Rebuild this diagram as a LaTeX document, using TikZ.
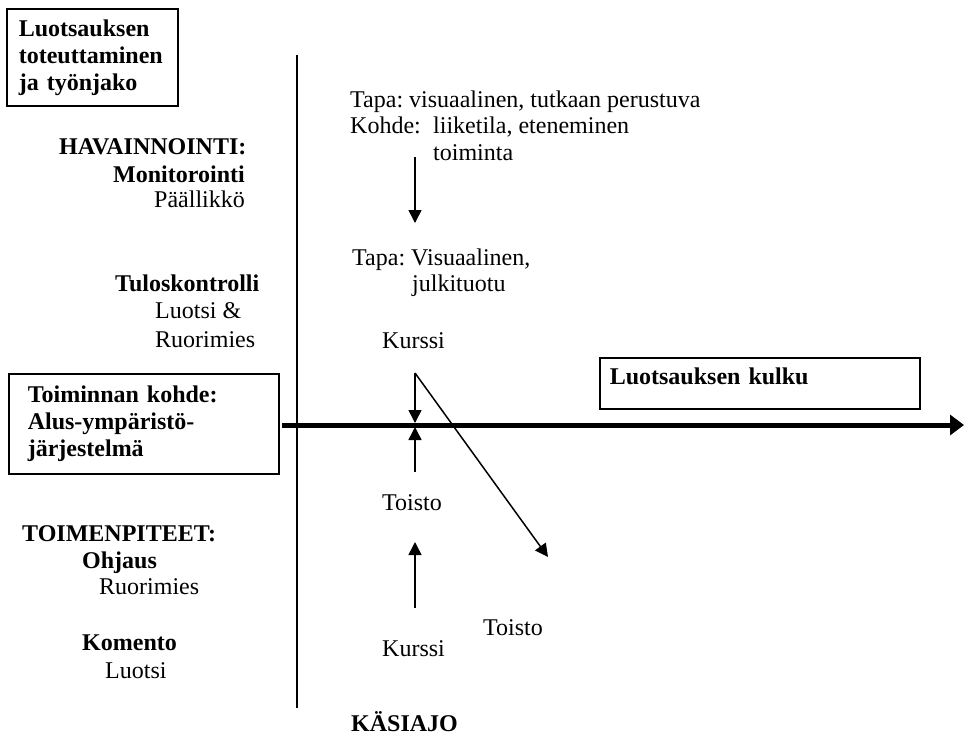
\documentclass[tikz,border=0pt]{standalone}
\usepackage{fontspec}
\setmainfont{Liberation Serif}
\usetikzlibrary{arrows.meta}
\frenchspacing

\begin{document}
\begin{tikzpicture}[x=1pt,y=-1pt,
  txt/.style={anchor=base west, inner sep=0pt, font=\fontsize{24}{27}\selectfont},
  btxt/.style={txt, font=\fontsize{24}{27}\selectfont\bfseries},
  frame/.style={draw, line width=1.6pt, align=left, inner ysep=0pt,
    font=\fontsize{24}{27}\selectfont\bfseries},
  thinarrow/.style={line width=1.5pt, -{Triangle[length=13pt,width=13pt]}},
  axis/.style={line width=2.4pt},
  flow/.style={line width=5pt, -{Triangle[length=14pt,width=20pt]}}
]
\useasboundingbox (0,0) rectangle (964,737);

% framed headings
\node[frame, anchor=north west, inner xsep=12pt, text width=147pt,
      minimum height=97pt] (tyonjako) at (6,8)
      {Luotsauksen\\toteuttaminen\\ja työnjako};
\node[frame, anchor=north west, inner xsep=19pt, text width=232pt,
      minimum height=100pt] (kohde) at (8,373)
      {Toiminnan kohde:\\Alus-ympäristö-\\järjestelmä};
\node[frame, anchor=north west, inner xsep=10pt, text width=300pt,
      text height=17pt, text depth=14pt, minimum height=51pt] (kulku) at (599,357)
      {Luotsauksen kulku};

% time axis and vertical divider
\coordinate (vtop) at (297,55);
\coordinate (vbot) at (297,708);
\draw[axis] (vtop) -- (vbot);
\coordinate (hstart) at (282,425);
\coordinate (hend) at (964,425);
\draw[flow] (hstart) -- (hend);

% left column: roles
\node[btxt] (hav) at (59,154) {HAVAINNOINTI:};
\node[btxt] (mon) at (113,182) {Monitorointi};
\node[txt]  (pal) at (154,207) {Päällikkö};
\node[btxt] (tul) at (115,291) {Tuloskontrolli};
\node[txt]  (luo1) at (155,318) {Luotsi \&};
\node[txt]  (ruo1) at (155,347) {Ruorimies};
\node[btxt] (toi) at (22,541) {TOIMENPITEET:};
\node[btxt] (ohj) at (82,568) {Ohjaus};
\node[txt]  (ruo2) at (99,594) {Ruorimies};
\node[btxt] (kom) at (82,650) {Komento};
\node[txt]  (luo2) at (105,678) {Luotsi};
\node[btxt] (kasi) at (351,731) {KÄSIAJO};

% right column: observation and course
\node[txt] (tapa1) at (350,107) {Tapa: visuaalinen, tutkaan perustuva};
\node[txt] (kohde1) at (350,133) {\makebox[83pt][l]{Kohde:}liiketila, eteneminen};
\node[txt] (toim) at (433,160) {toiminta};
\node[txt] (tapa2) at (352,265) {Tapa: Visuaalinen,};
\node[txt] (julk) at (412,291) {julkituotu};
\node[txt] (kur1) at (382,348) {Kurssi};
\node[txt] (tois1) at (382,510) {Toisto};
\node[txt] (tois2) at (483,635) {Toisto};
\node[txt] (kur2) at (382,656) {Kurssi};

% arrows
\coordinate (a1s) at (415,157);
\coordinate (a1e) at (415,223);
\draw[thinarrow] (a1s) -- (a1e);
\coordinate (ks) at (415,373);
\coordinate (kd) at (415,423);
\draw[thinarrow] (ks) -- (kd);
\coordinate (ts) at (415,472);
\coordinate (tu) at (415,427);
\draw[thinarrow] (ts) -- (tu);
\coordinate (de) at (548,557);
\draw[thinarrow] (ks) -- (de);
\coordinate (ls) at (415,608);
\coordinate (le) at (415,542);
\draw[thinarrow] (ls) -- (le);
\end{tikzpicture}
\end{document}
